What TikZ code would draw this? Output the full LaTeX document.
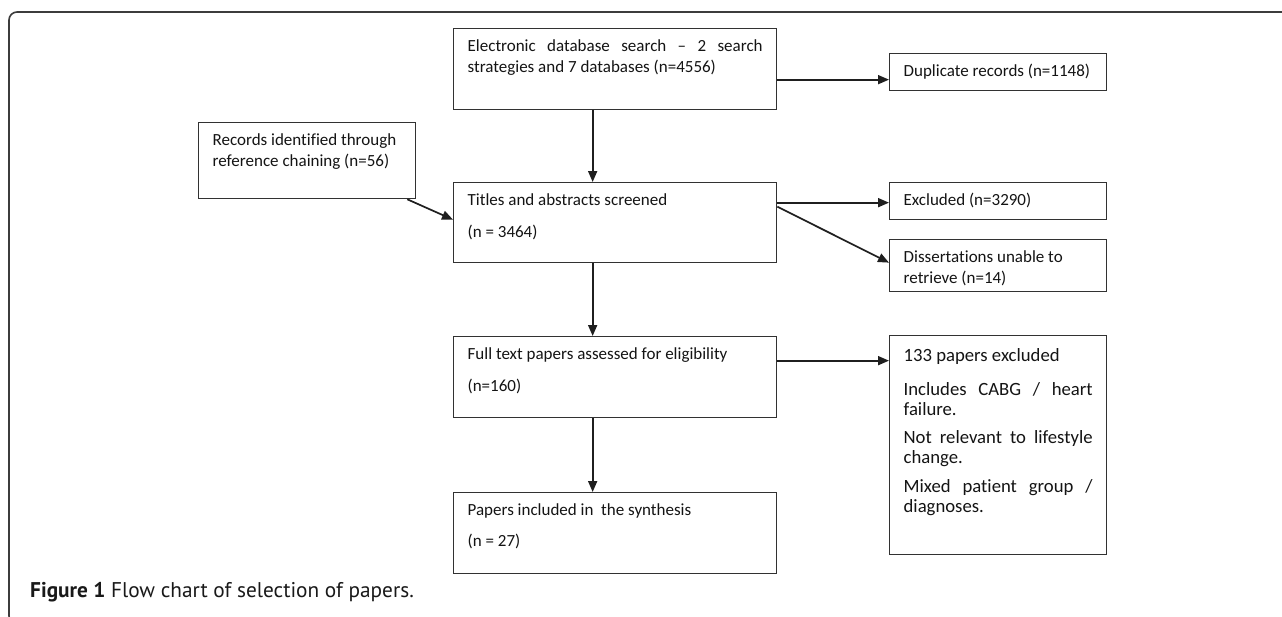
\documentclass[tikz,border=0pt]{standalone}
\usepackage{fontspec}
\setmainfont{Carlito}[Ligatures={TeX,NoCommon}]
\newfontfamily\capfont{PT Sans}
\usepackage{xcolor}
\usepackage{tikz}
\usetikzlibrary{arrows.meta, positioning, calc}
\definecolor{boxgray}{RGB}{50,50,50}
\definecolor{framegray}{RGB}{60,60,60}

\newcommand{\boxtext}[4][23pt]{\parbox[c][#3][t]{#2}{\fontsize{17}{21}\selectfont\hyphenpenalty=10000\setlength{\parskip}{11pt}\rule{0pt}{#1}#4}}

\begin{document}
\begin{tikzpicture}[
  x=1pt, y=-1pt,
  fbox/.style={rectangle, draw=boxgray, line width=1.3pt, inner xsep=14pt, inner ysep=0pt,
               anchor=north west, text=black!92},
  arrow/.style={-{Triangle[length=11pt, width=9pt]}, line width=1.7pt, color=black!88},
  frame/.style={draw=framegray, line width=1.6pt, rounded corners=8pt}
]
\useasboundingbox (0,0) rectangle (1282,616);
\fill[white] (0,0) rectangle (1282,616);
\draw[frame] (1290,12) -- (9,12) -- (9,624) -- (40,624);

\node[fbox] (srch) at (453,28) {\boxtext{295pt}{81pt}{Electronic database search -- 2 search strategies and 7 databases (n=4556)}};
\node[fbox] (dup) at (889,53) {\boxtext{189pt}{37pt}{\raggedright Duplicate records (n=1148)}};
\node[fbox] (recs) at (198,122) {\boxtext{189pt}{76pt}{\raggedright Records identified through reference chaining (n=56)}};
\node[fbox] (scr) at (453,182) {\boxtext{295pt}{80pt}{\raggedright Titles and abstracts screened\par (n = 3464)}};
\node[fbox] (excl) at (889,182) {\boxtext{189pt}{37pt}{\raggedright Excluded (n=3290)}};
\node[fbox] (diss) at (889,239) {\boxtext{189pt}{52pt}{\raggedright Dissertations unable to retrieve (n=14)}};
\node[fbox] (full) at (453,336) {\boxtext{295pt}{81pt}{\raggedright Full text papers assessed for eligibility\par (n=160)}};
\node[fbox] (exfull) at (889,335) {\boxtext[26pt]{189pt}{219pt}{\fontsize{18.7}{20}\selectfont\setlength{\parskip}{8.5pt}133 papers excluded\par\vspace{5pt}
  Includes CABG / heart failure.\par Not relevant to lifestyle change.\par Mixed patient group / diagnoses.}};
\node[fbox] (incl) at (453,492) {\boxtext{295pt}{81pt}{\raggedright Papers included in\ \ the synthesis\par\vspace{-1pt} (n = 27)}};

\node[anchor=base west, inner sep=0pt, text=black!90, font=\capfont\fontsize{21.3}{25}\selectfont] (cap) at (30,597)
  {\textbf{Figure 1} Flow chart of selection of papers.};

\draw[arrow] ([yshift=-10.5pt]srch.east) -- ([yshift=-7.5pt]dup.west);
\draw[arrow] ([xshift=-22.5pt]srch.south) -- ([xshift=-22.5pt]scr.north);
\draw[arrow] ([xshift=-9pt]recs.south east) -- ([yshift=3pt]scr.west);
\draw[arrow] ([yshift=20pt]scr.east) -- ([yshift=-1.5pt]excl.west);
\draw[arrow] ([yshift=16pt]scr.east) -- ([yshift=3pt]diss.west);
\draw[arrow] ([xshift=-22.5pt]scr.south) -- ([xshift=-22.5pt]full.north);
\draw[arrow] ([yshift=16.5pt]full.east) -- ([yshift=84.5pt]exfull.west);
\draw[arrow] ([xshift=-22.5pt]full.south) -- ([xshift=-22.5pt]incl.north);

\end{tikzpicture}
\end{document}
